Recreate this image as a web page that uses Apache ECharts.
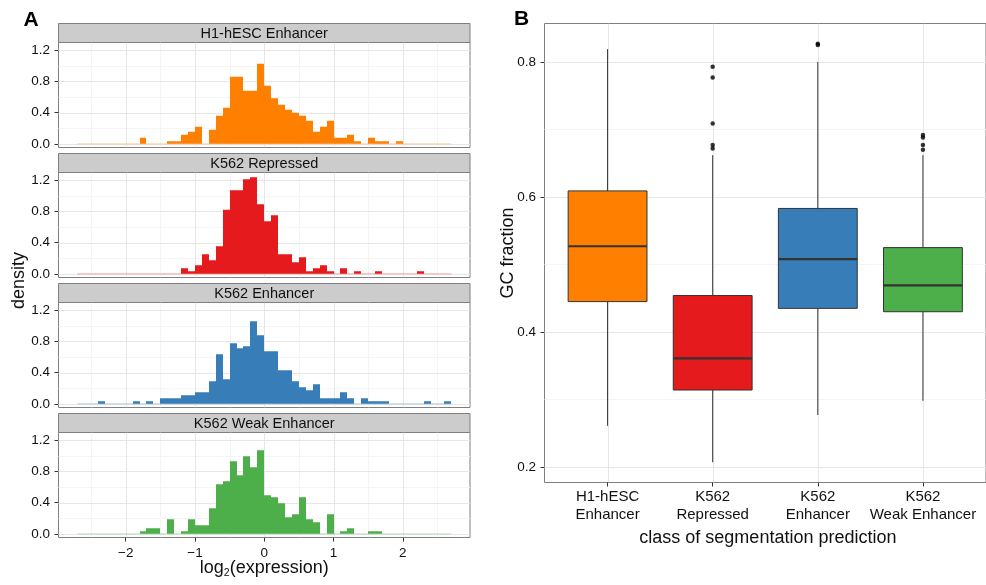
<!DOCTYPE html>
<html>
<head>
<meta charset="utf-8">
<title>Expression and GC content by segmentation class</title>
<script src="https://cdn.jsdelivr.net/npm/echarts@6/dist/echarts.min.js"></script>
<style>
  html, body { margin: 0; padding: 0; background: #ffffff; }
  #chart { width: 986px; height: 585px; }
</style>
</head>
<body>
<div id="chart"></div>
<script>
// ---- Panel A: histograms of log2(expression), bin width 0.1 ----
const binEdges = [
  -2.7, -2.6, -2.5, -2.4, -2.3, -2.2, -2.1, -2.0, -1.9, -1.8,
  -1.7, -1.6, -1.5, -1.4, -1.3, -1.2, -1.1, -1.0, -0.9, -0.8,
  -0.7, -0.6, -0.5, -0.4, -0.3, -0.2, -0.1, 0.0, 0.1, 0.2,
  0.3, 0.4, 0.5, 0.6, 0.7, 0.8, 0.9, 1.0, 1.1, 1.2,
  1.3, 1.4, 1.5, 1.6, 1.7, 1.8, 1.9, 2.0, 2.1, 2.2,
  2.3, 2.4, 2.5, 2.6, 2.7
];

const panelNames = ['H1-hESC Enhancer', 'K562 Repressed', 'K562 Enhancer', 'K562 Weak Enhancer'];
const panelColors = ['#FF7F00', '#E41A1C', '#377EB8', '#4DAF4A'];

const h1EnhancerDensity = [
  0, 0, 0, 0, 0, 0, 0, 0, 0, 0.077,
  0, 0, 0, 0.034, 0.034, 0.116, 0.154, 0.219, 0, 0.18,
  0.36, 0.463, 0.861, 0.861, 0.681, 0.681, 1.028, 0.745, 0.583, 0.501,
  0.437, 0.398, 0.36, 0.296, 0.154, 0.219, 0.296, 0.077, 0.077, 0.116,
  0.034, 0, 0.077, 0.034, 0.034, 0, 0.034, 0, 0, 0,
  0, 0, 0, 0
];
const k562RepressedDensity = [
  0, 0, 0, 0, 0, 0, 0, 0, 0, 0,
  0, 0, 0, 0, 0, 0.073, 0.034, 0.111, 0.252, 0.175,
  0.355, 0.82, 1.073, 1.073, 1.214, 1.239, 0.893, 0.675, 0.752, 0.252,
  0.252, 0.15, 0.214, 0.034, 0.073, 0.111, 0.034, 0, 0.073, 0,
  0.034, 0, 0, 0.034, 0, 0, 0, 0, 0, 0.034,
  0, 0, 0, 0
];
const k562EnhancerDensity = [
  0, 0, 0, 0.034, 0, 0, 0, 0, 0.034, 0,
  0.034, 0, 0.073, 0.073, 0.073, 0.111, 0.111, 0.15, 0.15, 0.29,
  0.637, 0.316, 0.778, 0.714, 0.739, 1.06, 0.88, 0.675, 0.675, 0.432,
  0.432, 0.29, 0.214, 0.175, 0.252, 0.073, 0.073, 0.073, 0.15, 0.073,
  0, 0.073, 0.034, 0.034, 0.034, 0, 0, 0, 0, 0,
  0.034, 0, 0, 0.034
];
const k562WeakEnhancerDensity = [
  0, 0, 0, 0, 0, 0, 0, 0, 0, 0.034,
  0.073, 0.073, 0, 0.188, 0, 0.034, 0.188, 0.111, 0.111, 0.329,
  0.637, 0.675, 0.932, 0.752, 0.996, 0.855, 1.073, 0.496, 0.47, 0.393,
  0.214, 0.252, 0.47, 0.188, 0.15, 0, 0.252, 0, 0.034, 0.073,
  0, 0, 0.034, 0.034, 0, 0, 0, 0, 0, 0,
  0, 0, 0, 0
];
const panelDensities = [h1EnhancerDensity, k562RepressedDensity, k562EnhancerDensity, k562WeakEnhancerDensity];

const exprTicks = [-2, -1, 0, 1, 2];
const exprMinorTicks = [-2.5, -1.5, -0.5, 0.5, 1.5, 2.5];
const densityTicks = [0, 0.4, 0.8, 1.2];
const densityMinorTicks = [0.2, 0.6, 1.0];

// ---- Panel B: GC fraction boxplots ----
const gcLowerWhisker = [0.261, 0.207, 0.277, 0.298];
const gcQ1 = [0.445, 0.314, 0.435, 0.430];
const gcMedian = [0.527, 0.361, 0.508, 0.469];
const gcQ3 = [0.609, 0.454, 0.583, 0.525];
const gcUpperWhisker = [0.819, 0.662, 0.800, 0.662];
const gcOutliers = [
  [],
  [0.793, 0.777, 0.709, 0.677, 0.672],
  [0.827, 0.825],
  [0.692, 0.688, 0.677, 0.670]
];
const gcTicks = [0.2, 0.4, 0.6, 0.8];
const gcMinorTicks = [0.3, 0.5, 0.7];

// ---- styling ----
const FONT = '"Liberation Sans", Arial, Helvetica, sans-serif';
const TEXT = '#111111';
const BORDER = '#7F7F7F';
const TICK = '#333333';
const GRID_MAJOR = '#E6E6E6';
const GRID_MINOR = '#F4F4F4';

const HIST_LEFT = 58.5, HIST_W = 411.5, HIST_H = 105;
const HIST_TOPS = [42.5, 172.5, 302.5, 432.5];
const STRIP_H = 19;
const X_MIN = -2.97, X_MAX = 2.97;
const Y_MIN = -0.047, Y_MAX = 1.299;

const BOX_LEFT = 544.5, BOX_TOP = 23.5, BOX_W = 450.8, BOX_H = 459;
const BOX_HALF = 0.375;

function fmtMinus(v) {
  return v < 0 ? '\u2212' + Math.abs(v) : String(v);
}
function textWidth(str, size) {
  const ctx = document.createElement('canvas').getContext('2d');
  ctx.font = size + 'px ' + FONT;
  return ctx.measureText(str).width;
}
function withAlpha(hex, a) {
  const n = parseInt(hex.slice(1), 16);
  return 'rgba(' + ((n >> 16) & 255) + ',' + ((n >> 8) & 255) + ',' + (n & 255) + ',' + a + ')';
}
function noLine() { return { show: false, onZero: false }; }

// panel grid lines (major and minor), drawn on the panel's own axes
// rows: [orientation (0 = vertical, 1 = horizontal), value, major (1) / minor (0)]
function gridLineSeries(xi, yi, xMajor, xMinor, yMajor, yMinor) {
  const rows = []
    .concat(xMinor.map(function (v) { return [0, v, 0]; }))
    .concat(yMinor.map(function (v) { return [1, v, 0]; }))
    .concat(xMajor.map(function (v) { return [0, v, 1]; }))
    .concat(yMajor.map(function (v) { return [1, v, 1]; }));
  return {
    type: 'custom', xAxisIndex: xi, yAxisIndex: yi, silent: true, z: 1, clip: true,
    encode: { x: 1, y: 1 },
    data: rows,
    renderItem: function (params, api) {
      const cs = params.coordSys;
      const v = api.value(1);
      const stroke = api.value(2) ? GRID_MAJOR : GRID_MINOR;
      let shape;
      if (api.value(0) === 0) {
        const px = Math.round(api.coord([v, 0])[0]) + 0.5;
        shape = { x1: px, y1: cs.y, x2: px, y2: cs.y + cs.height };
      } else {
        const py = Math.round(api.coord([0, v])[1]) + 0.5;
        shape = { x1: cs.x, y1: py, x2: cs.x + cs.width, y2: py };
      }
      return { type: 'line', shape: shape, style: { stroke: stroke, lineWidth: 1 } };
    }
  };
}

const grids = [], xAxes = [], yAxes = [], series = [], graphics = [];

panelNames.forEach(function (name, i) {
  const top = HIST_TOPS[i];
  const last = i === panelNames.length - 1;
  grids.push({
    left: HIST_LEFT, top: top, width: HIST_W, height: HIST_H,
    show: true, backgroundColor: '#ffffff', borderColor: BORDER, borderWidth: 1
  });
  xAxes.push({
    gridIndex: i, type: 'value', min: X_MIN, max: X_MAX, position: 'bottom',
    axisLine: noLine(),
    axisTick: { show: last, length: 4, lineStyle: { color: TICK }, customValues: exprTicks },
    axisLabel: { show: last, customValues: exprTicks, formatter: fmtMinus, fontSize: 13.5, fontFamily: FONT, color: TEXT, margin: 9 },
    splitLine: { show: false }
  });
  yAxes.push({
    gridIndex: i, type: 'value', min: Y_MIN, max: Y_MAX, position: 'left',
    axisLine: noLine(),
    axisTick: { show: true, length: 4, lineStyle: { color: TICK }, customValues: densityTicks },
    axisLabel: { customValues: densityTicks, formatter: function (v) { return v.toFixed(1); }, fontSize: 13.5, fontFamily: FONT, color: TEXT, margin: 8.5 },
    splitLine: { show: false }
  });

  series.push(gridLineSeries(i, i, exprTicks, exprMinorTicks, densityTicks, densityMinorTicks));

  const color = panelColors[i];
  const dens = panelDensities[i];
  const bins = dens.map(function (d, k) { return [binEdges[k], binEdges[k + 1], d]; });

  // faint baseline across the binned range
  series.push({
    type: 'line', xAxisIndex: i, yAxisIndex: i, silent: true,
    data: [[binEdges[0], 0], [binEdges[binEdges.length - 1], 0]],
    symbol: 'none', lineStyle: { color: withAlpha(color, 0.35), width: 1 }, z: 2
  });
  // histogram bars, snapped to whole pixels horizontally so neighbours join cleanly
  series.push({
    type: 'custom', name: name, xAxisIndex: i, yAxisIndex: i, clip: true, z: 3,
    encode: { x: [0, 1], y: 2 },
    data: bins,
    renderItem: function (params, api) {
      const h = api.value(2);
      if (!(h > 0)) return null;
      const a = api.coord([api.value(0), 0]);
      const b = api.coord([api.value(1), h]);
      const x0 = Math.round(a[0]), x1 = Math.round(b[0]);
      return {
        type: 'rect',
        shape: { x: x0, y: b[1], width: x1 - x0, height: a[1] - b[1] },
        style: { fill: color }
      };
    }
  });

  // facet strip
  graphics.push({
    type: 'rect', silent: true,
    shape: { x: HIST_LEFT, y: top - STRIP_H, width: HIST_W, height: STRIP_H },
    style: { fill: '#CCCCCC', stroke: BORDER, lineWidth: 1 }
  });
  graphics.push({
    type: 'text', silent: true, x: HIST_LEFT + HIST_W / 2, y: top - STRIP_H / 2 + 0.5,
    style: { text: name, fill: TEXT, fontSize: 14.5, fontFamily: FONT,
      align: 'center', verticalAlign: 'middle', textAlign: 'center', textVerticalAlign: 'middle' }
  });
});

// ---- boxplot grid ----
const boxGrid = grids.length;
grids.push({
  left: BOX_LEFT, top: BOX_TOP, width: BOX_W, height: BOX_H,
  show: true, backgroundColor: '#ffffff', borderColor: BORDER, borderWidth: 1
});
const classLabels = panelNames.map(function (n) { return n.replace(' ', '\n'); });
const classPositions = classLabels.map(function (_, i) { return i + 1; });
const boxX = xAxes.length;
xAxes.push({
  gridIndex: boxGrid, type: 'value', min: 0.4, max: 4.6, position: 'bottom',
  axisLine: noLine(),
  axisTick: { show: true, length: 4, lineStyle: { color: TICK }, customValues: classPositions },
  axisLabel: { customValues: classPositions, formatter: function (v) { return classLabels[Math.round(v) - 1]; },
    fontSize: 15, lineHeight: 18.3, fontFamily: FONT, color: TEXT, margin: 5 },
  splitLine: { show: false }
});
const boxY = yAxes.length;
yAxes.push({
  gridIndex: boxGrid, type: 'value', min: 0.177, max: 0.857, position: 'left',
  axisLine: noLine(),
  axisTick: { show: true, length: 4, lineStyle: { color: TICK }, customValues: gcTicks },
  axisLabel: { customValues: gcTicks, formatter: function (v) { return v.toFixed(1); }, fontSize: 13.5, fontFamily: FONT, color: TEXT, margin: 8.5 },
  splitLine: { show: false }
});
series.push(gridLineSeries(boxX, boxY, classPositions, [], gcTicks, gcMinorTicks));

const boxRows = classPositions.map(function (p, i) {
  return [p, gcLowerWhisker[i], gcQ1[i], gcMedian[i], gcQ3[i], gcUpperWhisker[i]];
});
series.push({
  type: 'custom', name: 'GC fraction', xAxisIndex: boxX, yAxisIndex: boxY, z: 3,
  encode: { x: 0, y: [1, 2, 3, 4, 5] },
  data: boxRows,
  renderItem: function (params, api) {
    const x = api.value(0);
    const lo = api.coord([x, api.value(1)]);
    const q1c = api.coord([x, api.value(2)]);
    const q3c = api.coord([x, api.value(4)]);
    const hi = api.coord([x, api.value(5)]);
    const q1l = api.coord([x - BOX_HALF, api.value(2)]);
    const q3r = api.coord([x + BOX_HALF, api.value(4)]);
    const ml = api.coord([x - BOX_HALF, api.value(3)]);
    const mr = api.coord([x + BOX_HALF, api.value(3)]);
    const line = { stroke: '#333333', lineWidth: 1 };
    return {
      type: 'group',
      children: [
        { type: 'line', shape: { x1: hi[0], y1: hi[1], x2: q3c[0], y2: q3c[1] }, style: line },
        { type: 'line', shape: { x1: q1c[0], y1: q1c[1], x2: lo[0], y2: lo[1] }, style: line },
        { type: 'rect', shape: { x: q1l[0], y: q3r[1], width: q3r[0] - q1l[0], height: q1l[1] - q3r[1] },
          style: { fill: panelColors[params.dataIndex], stroke: '#333333', lineWidth: 1 } },
        { type: 'line', shape: { x1: ml[0], y1: ml[1], x2: mr[0], y2: mr[1] }, style: { stroke: '#333333', lineWidth: 2.2 } }
      ]
    };
  }
});
const outlierPoints = [];
gcOutliers.forEach(function (vals, i) {
  vals.forEach(function (v) { outlierPoints.push([classPositions[i], v]); });
});
series.push({
  type: 'scatter', xAxisIndex: boxX, yAxisIndex: boxY, z: 4, silent: true,
  data: outlierPoints, symbol: 'circle', symbolSize: 4.5,
  itemStyle: { color: '#000000' }
});

// ---- panel letters and axis titles ----
function label(text, x, y, size, extra) {
  return {
    type: 'text', silent: true, x: x, y: y,
    style: Object.assign({ text: text, fill: TEXT, fontSize: size, fontFamily: FONT,
      align: 'center', verticalAlign: 'middle', textAlign: 'center', textVerticalAlign: 'middle' }, extra || {})
  };
}
graphics.push(label('A', 31, 20, 21, { fontWeight: 'bold', fill: '#000' }));
graphics.push(label('B', 521.5, 19.5, 21, { fontWeight: 'bold', fill: '#000' }));

const densityTitle = label('density', 19.5, (HIST_TOPS[0] - STRIP_H + HIST_TOPS[3] + HIST_H) / 2, 18);
densityTitle.rotation = Math.PI / 2;
graphics.push(densityTitle);

const gcTitle = label('GC fraction', 508, BOX_TOP + BOX_H / 2, 18);
gcTitle.rotation = Math.PI / 2;
graphics.push(gcTitle);

graphics.push(label('class of segmentation prediction', BOX_LEFT + BOX_W / 2 - 2, 538.5, 18));

// log2(expression) with a subscript 2
(function () {
  const main = 18, sub = 10.5;
  const wLog = textWidth('log', main), wSub = textWidth('2', sub), wRest = textWidth('(expression)', main);
  let x = HIST_LEFT + HIST_W / 2 - (wLog + wSub + wRest) / 2;
  graphics.push(label('log', x, 568.3, main, { align: 'left', textAlign: 'left' }));
  x += wLog;
  graphics.push(label('2', x, 573.3, sub, { align: 'left', textAlign: 'left' }));
  x += wSub;
  graphics.push(label('(expression)', x, 568.3, main, { align: 'left', textAlign: 'left' }));
})();

const chart = echarts.init(document.getElementById('chart'), null, { renderer: 'canvas' });
chart.setOption({
  backgroundColor: '#ffffff',
  animation: false,
  textStyle: { fontFamily: FONT },
  grid: grids,
  xAxis: xAxes,
  yAxis: yAxes,
  series: series,
  graphic: { elements: graphics }
});
</script>
</body>
</html>
